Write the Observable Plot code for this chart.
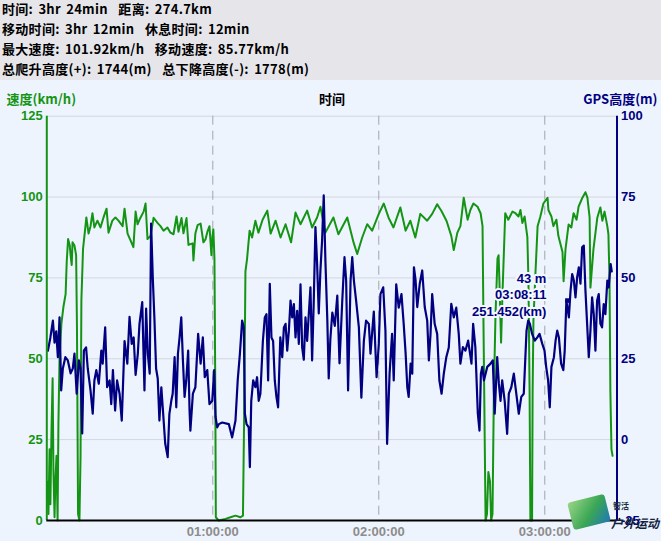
<!DOCTYPE html>
<html><head><meta charset="utf-8">
<script src="https://cdn.jsdelivr.net/npm/d3@7"></script>
<script src="https://cdn.jsdelivr.net/npm/@observablehq/plot@0.6"></script>
<style>
body{margin:0;width:661px;height:541px;overflow:hidden;background:#eef4fd;font-family:"Noto Sans CJK SC",sans-serif;position:relative;}
#hdr{height:80px;background:#e6e6ea;font-weight:bold;font-size:13px;color:#000;padding-left:2px;box-sizing:border-box;overflow:hidden;letter-spacing:0.3px;word-spacing:2px;}
#hdr div{height:20px;line-height:20px;white-space:pre;position:relative;top:-1px;}
#chart svg{display:block;}
#logoCard{position:absolute;left:570px;top:498px;width:38px;height:28px;border-radius:3px;background:linear-gradient(135deg,#9ad685 0%,#3aa655 55%,#1f78b8 100%);transform:rotate(-14deg);}
#logoText{position:absolute;left:611px;top:516px;font:bold italic 12px "Noto Sans CJK SC";color:#102040;line-height:13px;}
#logoSmall{position:absolute;left:613px;top:501px;font:bold 8px "Noto Sans CJK SC";color:#203040;line-height:9px;}
</style></head><body>
<div id="hdr"></div>
<div id="chart"></div>
<div id="logoCard"></div><div id="logoSmall">智活</div><div id="logoText">户外运动</div>
<script>
// ---- header text ----
const headerLines = [
  "时间: 3hr 24min  距离: 274.7km",
  "移动时间: 3hr 12min  休息时间: 12min",
  "最大速度: 101.92km/h  移动速度: 85.77km/h",
  "总爬升高度(+): 1744(m)  总下降高度(-): 1778(m)"
];
// ---- axis titles / ticks ----
const leftTitle = "速度(km/h)";
const centerTitle = "时间";
const rightTitle = "GPS高度(m)";
const speedTicks = [0, 25, 50, 75, 100, 125];
const altTicks = [-25, 0, 25, 50, 75, 100];
const timeTicks = [60, 120, 180]; // minutes
const timeMax = 206.1;            // minutes at right edge
// ---- cursor annotation ----
const cursorTime = 188.18;  // 03:08:11
const cursorAlt = 43;
const cursorLabels = ["43 m", "03:08:11", "251.452(km)"];

// ---- speed series (minutes, km/h) ----
const speedT = [0.25,0.6,1.0,1.3,1.7,2.1,2.4,2.8,3.1,3.5,3.9,4.2,4.6,5.3,6.0,6.8,7.2,7.7,8.3,8.6,9.0,9.3,10.0,10.6,10.9,11.3,11.8,12.2,12.5,13.1,13.6,14.3,15.1,15.8,16.5,17.2,18.3,19.4,20.5,21.6,22.3,23.7,24.8,25.9,27.4,28.1,29.2,30.3,31.3,32.1,32.8,33.9,35.0,35.7,36.4,37.5,38.6,40.0,41.1,42.2,43.6,44.7,45.8,46.9,47.6,48.7,49.4,50.5,51.2,52.7,53.0,53.7,54.5,55.6,56.6,57.4,58.1,58.8,59.5,59.9,60.2,60.6,60.9,61.1,62.1,64.6,66.4,68.2,70.0,70.9,71.3,71.8,72.4,73.3,74.2,75.4,76.5,78.0,79.7,80.9,82.7,84.5,86.3,88.3,89.9,91.7,94.1,95.9,97.7,98.9,100.7,103.6,105.4,108.6,110.9,112.2,114.0,115.8,117.6,120.0,121.8,123.5,125.3,127.8,129.7,131.4,133.2,135.0,137.5,139.3,141.1,142.7,144.5,146.2,147.1,148.4,149.5,150.7,152.1,153.1,154.2,155.7,156.8,157.5,157.8,158.6,159.1,159.6,160.2,160.6,161.1,161.6,162.2,162.9,163.3,163.6,164.2,164.7,165.7,166.8,168.3,169.4,170.5,171.2,171.9,172.7,173.7,174.1,174.5,174.8,175.4,175.6,175.9,176.6,177.4,178.4,179.5,181.0,181.3,182.4,183.1,184.2,184.9,186.4,186.8,187.5,188.6,189.6,190.4,191.5,192.2,193.6,194.7,195.4,196.2,196.5,197.6,199.0,200.1,200.8,201.6,202.6,203.0,203.4,203.7,204.1,204.5];
const speedV = [12,2,22,5,28,44,15,1,12,20,0,30,50,61,66,70,80,87,85,82,79,86,85,82,60,2,0,20,68,84,88,93.7,88.7,91,95,90.6,92.7,90.6,93.7,96.4,89,92.7,93.7,92.7,91,96.4,88.7,86.5,84.5,95.5,91.6,93.7,95.5,98,87,88,93.6,92,91,89.6,90.6,89,88.5,94,89.3,93.5,88.8,93.5,85.2,85.7,80.4,88.7,91.3,91.8,86,87,89.4,91,82,88,90,81,40,1,0,0.5,1,1.5,1,1.5,30,77,81,89.6,87.5,92.7,89,93,95.8,88.7,92.7,87.5,91.6,86,95.2,91.6,95.8,90.6,93.7,97,89,93.7,88.5,93.7,85.9,82.4,87.5,91.6,89.6,94.8,98,93.7,90.6,96.8,89.6,92.7,87.5,94.8,92.7,94.8,97.8,95.6,92.6,88,83.6,89,91,99.8,93,96,98,97,95,91,64,0,2,15,12,0,2,40,64,81,82,74,55,70,95,93,95.5,95,94,96,92,94,87.6,74,40,0,0,40,62,76,91,94,98,99.8,96,94,91,93,88,83,74,84,91.5,90.6,95,93,97,99.8,101.5,99.8,93.7,72,84,93.7,96.8,92.7,95.5,91,88.5,74,40,22,20];

// ---- GPS altitude series (minutes, m) ----
const altT = [0.4,1.3,2.2,2.8,3.4,4.0,4.6,5.2,5.8,6.7,7.6,8.6,9.4,10.0,10.8,11.6,12.2,12.8,13.4,14.2,14.8,15.8,16.6,17.2,17.9,18.8,19.7,20.2,21.1,21.8,22.7,23.3,23.9,24.7,25.4,26.3,27.1,28.1,29.1,29.9,30.7,31.4,32.1,32.9,33.5,34.5,35.3,35.9,36.5,37.2,37.7,38.3,38.9,39.5,40.1,40.7,41.4,41.9,42.8,43.7,44.3,45.0,45.5,46.2,46.8,47.4,48.0,48.6,49.2,49.8,50.4,51.1,51.6,51.9,52.8,53.7,54.7,55.6,56.4,57.1,58.0,58.8,59.8,60.5,61.0,61.6,62.2,63.4,65.8,67.0,68.2,69.0,69.8,70.6,71.2,71.6,72.2,73.0,73.4,73.9,74.6,75.4,76.0,76.6,77.2,78.1,78.8,79.4,80.0,80.6,81.2,81.8,82.4,83.0,83.6,84.4,85.1,85.7,86.3,86.9,87.5,88.1,88.7,89.3,89.9,90.5,91.1,91.7,92.3,92.9,93.5,94.1,94.7,95.3,95.9,96.5,97.1,97.7,98.3,98.9,99.5,100.1,100.7,101.4,101.9,102.5,103.2,104.1,105.0,105.8,106.8,107.6,108.2,108.9,109.8,110.4,111.0,111.8,112.8,113.7,114.6,115.4,116.4,117.0,118.2,119.2,120.0,120.6,121.6,122.4,123.0,123.9,124.8,125.4,126.3,127.2,128.2,129.0,129.7,130.3,130.8,131.5,132.1,132.7,133.3,133.9,134.8,135.7,136.6,137.5,138.1,138.7,139.3,140.2,141.1,141.9,142.7,143.5,144.4,145.3,146.2,147.1,148.0,148.9,149.5,150.4,151.3,152.3,153.5,154.1,154.9,155.8,156.4,156.9,157.4,158.0,159.2,160.4,161.2,161.9,162.8,163.4,164.0,164.6,165.5,166.4,167.0,167.9,168.8,169.7,170.6,171.5,172.4,173.4,174.0,174.6,175.4,176.4,177.3,178.1,179.1,179.9,180.5,181.2,181.8,182.4,183.3,183.9,184.5,185.1,185.9,186.7,187.2,187.8,188.7,189.3,189.9,190.5,191.1,191.7,192.3,192.9,193.5,194.1,194.7,195.3,195.9,196.5,197.1,197.7,198.3,198.9,199.5,200.1,200.7,201.3,201.9,202.6,203.1,203.8,204.2];
const altV = [27.5,31.6,36.8,30,33.5,25.5,37.8,15.2,22,25.5,24.5,20.5,22,26.6,14.2,24.5,22,1.9,27.5,28.5,22,15.2,8,18.3,21.5,17.3,27.5,23.5,34.7,16.2,18.3,11,21.5,9,18.3,14.2,5.9,30.5,23.5,38,29.6,31.6,20,26.6,35.8,42.5,15.2,40.5,26.6,20.4,66.8,50.2,37.4,22,18.9,5.9,16.2,10,-1.2,-5.4,7.9,12,14.2,25.5,10,26.6,31.6,37.8,24.5,13.2,18.3,27.5,9,2.8,14.2,16.2,32.7,23.5,31.6,19.3,21.5,11,12,21.5,7,3.8,4.8,5.3,4.8,0.7,5.9,18.3,26.6,36.8,34.7,8,4.8,3.8,-8.5,12,18.3,16.2,19.3,12,14.2,30.5,37.8,38.8,18.3,48.2,31.6,30.5,18.3,13.2,10,31.6,25.5,34.7,35.8,27.5,33.7,43,37.8,41.9,31.6,39.8,29.6,48,28.5,24.7,37.8,30.5,38.8,47.1,24.5,43,65.7,54.4,39,52.3,61.5,75.5,55.4,36.8,18.9,31.2,39.3,35.2,44.5,23.6,43,56.4,49.2,15.2,49.2,56.4,49.2,43,34.7,13,30.5,36.8,35.8,26.6,39.6,19.3,29.6,45,47.1,33.7,-1.3,20.4,32.7,18.3,48,40.8,45,35.8,26.6,16.2,13.2,23.5,20.4,53.3,49.2,41,48.2,52.3,41,36.8,24.5,32.7,45,35.8,32.7,18.3,14.2,20.4,25.5,28.5,42,37.8,40.8,32.7,23.5,28.6,27.5,30.6,23.5,35.8,28.6,8,2.8,20.4,22.5,18.3,22.5,23.5,24.5,8,25.5,17.3,12,18.3,12,1.8,14.2,16.2,20.4,14.2,8,13.2,14.2,33.7,36.8,35.8,32.7,30.6,31.6,32.7,29.6,27.5,22.5,18.3,10,22.5,25.5,30.6,33.7,31.6,23.5,21.5,27.5,43,37.8,46,51.2,49.2,44,50.2,53.3,48.2,59.5,60,46,35.8,25.5,33.7,44,38.8,27.5,42.9,45,35.8,34.7,41.9,38.8,49.2,47.1,54.3,52];

// header
const hdr = document.getElementById("hdr");
headerLines.forEach(t => { const d = document.createElement("div"); d.textContent = t; hdr.appendChild(d); });

const GREEN = "#149414", NAVY = "#000080", BG = "#eef4fd";
const FONT = '"Noto Sans CJK SC", sans-serif';
const LATIN = '"Liberation Sans", sans-serif';
// altitude axis (-25..100) shares pixel range with speed axis (0..125)
const altOffset = speedTicks[speedTicks.length - 1] - altTicks[altTicks.length - 1];

const speed = speedT.map((t, i) => ({t, v: speedV[i]}));
const alt = altT.map((t, i) => ({t, v: altV[i] + altOffset}));

const fmtTime = m => {
  const s = Math.round(m * 60);
  const p = n => String(n).padStart(2, "0");
  return `${p(Math.floor(s / 3600))}:${p(Math.floor(s / 60) % 60)}:${p(s % 60)}`;
};
const txt = {fontFamily: FONT, fontWeight: "bold", fontSize: 13};
const tick = {fontFamily: LATIN, fontWeight: "bold", fontSize: 13};
const cursorPt = [{t: cursorTime, v: cursorAlt + altOffset}];
const cursorMarks = cursorLabels.map((label, i) =>
  Plot.text(cursorPt, {x: "t", y: "v", text: () => label, textAnchor: "end", dx: -21, dy: -22 + i * 16.5,
    fill: NAVY, stroke: "#f4f8fe", strokeWidth: 4, ...tick}));

const chart = Plot.plot({
  width: 661, height: 461,
  marginTop: 35.7, marginBottom: 21, marginLeft: 46.3, marginRight: 44.5,
  style: {background: BG, fontFamily: FONT, overflow: "visible"},
  x: {domain: [0, timeMax]},
  y: {domain: [speedTicks[0], speedTicks[speedTicks.length - 1]]},
  marks: [
    Plot.ruleY(speedTicks.slice(1), {stroke: "#d2d6de", strokeWidth: 1}),
    Plot.ruleX(timeTicks, {stroke: "#a4a4ac", strokeWidth: 1, strokeDasharray: "9,6"}),
    Plot.line(speed, {x: "t", y: "v", stroke: GREEN, strokeWidth: 2, curve: "linear"}),
    Plot.line(alt, {x: "t", y: "v", stroke: NAVY, strokeWidth: 2.2, curve: "linear"}),
    Plot.ruleX([0], {y1: speedTicks[0], y2: speedTicks[speedTicks.length - 1], stroke: GREEN, strokeWidth: 2}),
    Plot.ruleX([timeMax], {y1: speedTicks[0], y2: speedTicks[speedTicks.length - 1], stroke: NAVY, strokeWidth: 2}),
    Plot.ruleY([0], {stroke: "#000", strokeWidth: 2}),
    Plot.axisY(speedTicks, {anchor: "left", tickSize: 0, tickPadding: 4, label: null, fill: GREEN, ...tick}),
    Plot.axisY(speedTicks, {anchor: "right", tickSize: 0, tickPadding: 4, label: null, fill: NAVY, tickFormat: d => d - altOffset, ...tick}),
    Plot.axisX(timeTicks, {anchor: "bottom", tickSize: 0, tickPadding: 6, label: null, fill: "#8c8c8c", tickFormat: fmtTime, ...tick}),
    Plot.text([leftTitle], {text: d => d, frameAnchor: "top-left", textAnchor: "start", dx: -40.3, dy: -21.7, fill: GREEN, ...txt}),
    Plot.text([centerTitle], {text: d => d, frameAnchor: "top", textAnchor: "middle", dy: -21.7, fill: "#000", ...txt}),
    Plot.text([rightTitle], {text: d => d, frameAnchor: "top-right", textAnchor: "end", dx: 40.5, dy: -21.7, fill: NAVY, ...txt}),
    ...cursorMarks,
    Plot.dot(cursorPt, {x: "t", y: "v", symbol: "square", r: 2.6, fill: NAVY, stroke: null})
  ]
});
document.getElementById("chart").appendChild(chart);
</script>
</body></html>
